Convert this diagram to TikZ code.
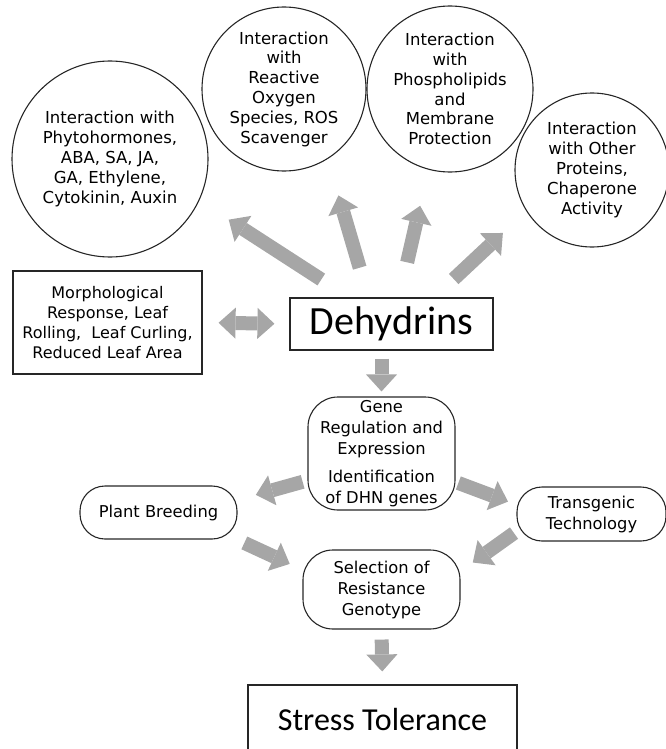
\documentclass[tikz,border=0pt]{standalone}
\usepackage{fontspec}
\setmainfont{DejaVu Sans}
\newfontfamily\calibfont{Carlito}
\usetikzlibrary{arrows.meta}

\begin{document}
\begin{tikzpicture}[x=1pt, y=-1pt,
	bubble/.style={circle, draw=black!85, line width=1.1pt, inner sep=0pt, align=center, font=\fontsize{16.5}{19.8}\selectfont},
	box/.style={rectangle, draw=black!85, line width=1.1pt, inner sep=0pt, align=center, font=\fontsize{16}{20}\selectfont},
	pill/.style={box, rounded corners=25pt, font=\fontsize{16.3}{21}\selectfont},
	fat/.style={draw=gray!70, line width=14pt, -{Triangle[width=31pt, length=17pt, line width=0pt]}},
	fatboth/.style={draw=gray!70, line width=14pt, {Triangle[width=31pt, length=17pt, line width=0pt]}-{Triangle[width=31pt, length=17pt, line width=0pt]}}]
		\clip (0,0) rectangle (666,749);

		\draw (110,159) node[bubble, minimum size=196pt] (phyto) {Interaction with\\Phytohormones,\\ABA, SA, JA,\\GA, Ethylene,\\Cytokinin, Auxin};
		\draw (284,89) node[bubble, minimum size=164pt] (ros) {Interaction\\with\\Reactive\\Oxygen\\Species, ROS\\Scavenger};
		\draw (450,89) node[bubble, minimum size=166pt] (lipid) {Interaction\\with\\Phospholipids\\and\\Membrane\\Protection};
		\draw (592,170) node[bubble, minimum size=154pt] (chap) {Interaction\\with Other\\Proteins,\\Chaperone\\Activity};

		\draw (107.5,322.5) node[box, minimum width=189pt, minimum height=103pt] (morph) {Morphological\\Response, Leaf\\Rolling,\ \ Leaf Curling,\\Reduced Leaf Area};
		\draw (391.5,324) node[box, minimum width=203pt, minimum height=52pt, font=\calibfont\fontsize{40}{44}\selectfont] (dehyd) {Dehydrins};

		\draw (381.5,453.5) node[pill, minimum width=147pt, minimum height=113pt, rounded corners=30pt] (gene) {Gene\\Regulation and\\Expression\\[7pt]Identification\\of DHN genes};
		\draw (158.5,512.5) node[pill, minimum width=157pt, minimum height=53pt] (breed) {Plant Breeding};
		\draw (591.5,514) node[pill, minimum width=149pt, minimum height=54pt] (transg) {Transgenic\\Technology};
		\draw (381.5,589.5) node[pill, minimum width=157pt, minimum height=79pt, rounded corners=30pt] (select) {Selection of\\Resistance\\Genotype};
		\draw (382.5,719.5) node[box, minimum width=269pt, minimum height=69pt, font=\calibfont\fontsize{32}{36}\selectfont] (stress) {Stress Tolerance};

		\draw [fat, shorten <=33pt, shorten >=35pt] (dehyd.148) -- (phyto.-25);
		\draw [fat, shorten <=31pt, shorten >=38pt] (dehyd.131) -- (ros.-58);
		\draw [fat, shorten <=36pt, shorten >=37pt] (dehyd.74) -- (lipid.-105);
		\draw [fat, shorten <=27pt, shorten >=32pt] (dehyd.32) -- (chap.212);
		\draw [fatboth, shorten <=16pt, shorten >=15pt] (morph.east) -- (dehyd.west);
		\draw [fat, shorten <=8pt, shorten >=5pt] (gene.north |- dehyd.south) -- (gene.north);
		\draw [fat, shorten <=5pt, shorten >=19pt] (gene.200) -- (breed.9);
		\draw [fat, shorten <=3pt, shorten >=9pt] (gene.-21) -- (transg.173);
		\draw [fat, shorten <=8pt, shorten >=14pt] (breed.-19) -- (select.166);
		\draw [fat, shorten <=3pt, shorten >=15pt] (transg.193) -- (select.13);
		\draw [fat, shorten <=10pt, shorten >=13pt] (select.south) -- (stress.north);
	\end{tikzpicture}
\end{document}
